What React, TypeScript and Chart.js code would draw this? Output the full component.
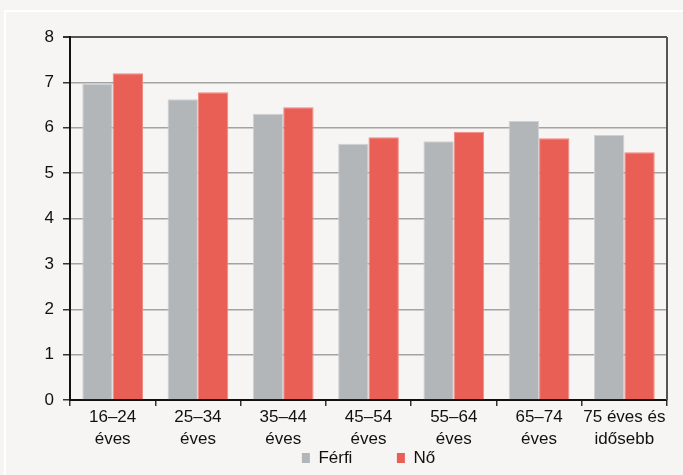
import React, { useEffect, useRef } from "react";
import { Chart, registerables } from "chart.js";

Chart.register(...registerables);

const categories: string[][] = [
  ["16–24", "éves"],
  ["25–34", "éves"],
  ["35–44", "éves"],
  ["45–54", "éves"],
  ["55–64", "éves"],
  ["65–74", "éves"],
  ["75 éves és", "idősebb"],
];
const ferfiValues = [6.97, 6.63, 6.31, 5.65, 5.7, 6.15, 5.84];
const noValues = [7.2, 6.78, 6.45, 5.79, 5.91, 5.77, 5.46];
const seriesNames = ["Férfi", "Nő"];
const yMin = 0;
const yMax = 8;
const yStep = 1;

const FONT = "'Liberation Sans', Arial, sans-serif";

const framePlugin = {
  id: "frame",
  beforeDraw(chart: any) {
    const { ctx, width, height } = chart;
    ctx.save();
    ctx.fillStyle = "#f6f5f3";
    ctx.fillRect(0, 0, width, height);
    ctx.strokeStyle = "#ffffff";
    ctx.lineWidth = 2;
    ctx.beginPath();
    ctx.moveTo(4, 11);
    ctx.lineTo(width, 11);
    ctx.moveTo(5, 10);
    ctx.lineTo(5, height);
    ctx.stroke();
    ctx.restore();
  },
  afterDraw(chart: any) {
    const { ctx, chartArea } = chart;
    ctx.save();
    ctx.strokeStyle = "#555555";
    ctx.lineWidth = 2;
    ctx.beginPath();
    ctx.moveTo(chartArea.right, chartArea.top);
    ctx.lineTo(chartArea.right, chartArea.bottom);
    ctx.stroke();
    ctx.restore();
  },
};

export default function App() {
  const ref = useRef<HTMLCanvasElement | null>(null);
  useEffect(() => {
    document.body.style.margin = "0";
    if (!ref.current) return;
    const chart = new Chart(ref.current, {
      type: "bar",
      data: {
        labels: categories,
        datasets: [
          {
            label: seriesNames[0],
            data: ferfiValues,
            backgroundColor: "#b3b6b9",
            borderColor: "#cfd1d3",
            borderWidth: { top: 1, left: 1, right: 1, bottom: 0 },
            borderSkipped: "bottom",
          },
          {
            label: seriesNames[1],
            data: noValues,
            backgroundColor: "#e95f56",
            borderColor: "#f08a83",
            borderWidth: { top: 1, left: 1, right: 1, bottom: 0 },
            borderSkipped: "bottom",
          },
        ],
      },
      options: {
        responsive: false,
        animation: false,
        layout: { padding: { left: 0, right: 16, top: 37, bottom: -1.5 } },
        datasets: {
          bar: { categoryPercentage: 0.712, barPercentage: 1 },
        },
        scales: {
          x: {
            grid: {
              display: true,
              drawOnChartArea: false,
              offset: true,
              tickLength: 6,
              tickColor: "#333333",
              lineWidth: 1.5,
            },
            border: { display: true, color: "#111111", width: 2 },
            ticks: {
              color: "#111111",
              padding: 0,
              maxRotation: 0,
              autoSkip: false,
              font: { family: FONT, size: 17, lineHeight: 1.3 },
            },
            afterFit(scale: any) {
              scale.height = 47.5;
            },
          },
          y: {
            min: yMin,
            max: yMax,
            ticks: {
              stepSize: yStep,
              color: "#111111",
              padding: 9,
              font: { family: FONT, size: 17 },
            },
            grid: {
              color: (c: any) => (c.tick && c.tick.value === yMax ? "#555555" : "#a3a3a3"),
              lineWidth: (c: any) => (c.tick && c.tick.value === yMax ? 2 : 1.5),
              tickLength: 7,
              tickColor: "#333333",
            },
            border: { display: true, color: "#111111", width: 2 },
            afterFit(scale: any) {
              scale.width = 70;
            },
          },
        },
        plugins: {
          tooltip: { enabled: false },
          legend: {
            position: "bottom",
            fullSize: false,
            labels: {
              color: "#111111",
              boxWidth: 8,
              boxHeight: 10,
              padding: 2,
              font: { family: FONT, size: 17, lineHeight: 1 },
              generateLabels(chart: any) {
                const items = Chart.defaults.plugins.legend.labels.generateLabels(chart);
                return items.map((it: any, i: number) => ({
                  ...it,
                  text: i === 0 ? it.text + "         " : it.text,
                  lineWidth: 0,
                  strokeStyle: "transparent",
                }));
              },
            },
          },
        },
      },
      plugins: [framePlugin],
    } as any);
    return () => chart.destroy();
  }, []);
  return <canvas ref={ref} width={683} height={475} style={{ display: "block" }} />;
}
